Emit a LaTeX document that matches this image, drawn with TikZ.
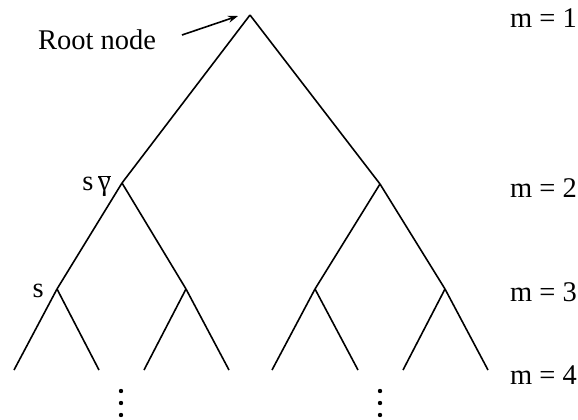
\documentclass[tikz,border=0pt]{standalone}
\usepackage{fontspec}
\setmainfont{Liberation Serif}
\usetikzlibrary{arrows.meta}
\begin{document}
\begin{tikzpicture}[x=1pt,y=-1pt,
  edge/.style={line width=1.6pt},
  lbl/.style={inner sep=0pt,font=\fontsize{28.5}{32}\selectfont},
  dotmark/.style={fill=black,draw=none}]
\useasboundingbox (0,0) rectangle (578,420);
% tree nodes
\coordinate (r) at (250,15);
\coordinate (a) at (122,183);
\coordinate (b) at (380,184);
\coordinate (a1) at (57,289);
\coordinate (a2) at (186,289);
\coordinate (b1) at (315,289);
\coordinate (b2) at (445,289);
\coordinate (l1) at (14,370);
\coordinate (l2) at (99,370);
\coordinate (l3) at (144,370);
\coordinate (l4) at (229,370);
\coordinate (l5) at (272,370);
\coordinate (l6) at (358,370);
\coordinate (l7) at (403,370);
\coordinate (l8) at (488,370);
% edges
\draw[edge] (r) -- (a);
\draw[edge] (r) -- (b);
\draw[edge] (a) -- (a1);
\draw[edge] (a) -- (a2);
\draw[edge] (b) -- (b1);
\draw[edge] (b) -- (b2);
\draw[edge] (a1) -- (l1);
\draw[edge] (a1) -- (l2);
\draw[edge] (a2) -- (l3);
\draw[edge] (a2) -- (l4);
\draw[edge] (b1) -- (l5);
\draw[edge] (b1) -- (l6);
\draw[edge] (b2) -- (l7);
\draw[edge] (b2) -- (l8);
% labels
\node[lbl] (rootlbl) at (97,40) {Root node};
\coordinate (arrs) at (182,35);
\coordinate (arre) at (238,16);
\draw[line width=1.6pt,-{Stealth[length=10pt,width=7pt]}] (arrs) -- (arre);
\node[lbl,anchor=east] (sg) at (111,186) {s\,$\overline{\hbox{γ}}$};
\node[lbl,anchor=east] (s) at (44,291) {s};
\node[lbl,anchor=east] (m1) at (577,18) {m = 1};
\node[lbl,anchor=east] (m2) at (577,188) {m = 2};
\node[lbl,anchor=east] (m3) at (577,292) {m = 3};
\node[lbl,anchor=east] (m4) at (577,375) {m = 4};
% vertical dots
\foreach \xx in {121,380} {
  \foreach \yy in {391,403,415} {
    \fill[dotmark] (\xx,\yy) circle (2.2);
  }
}
\end{tikzpicture}
\end{document}
